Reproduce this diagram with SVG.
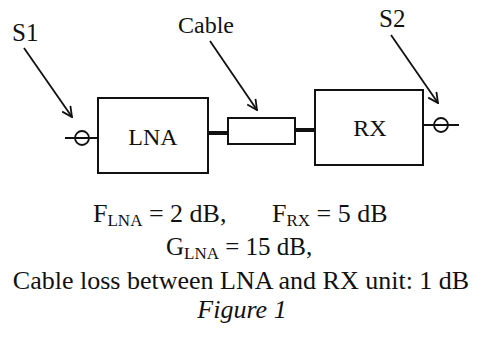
<svg xmlns="http://www.w3.org/2000/svg" width="484" height="338" viewBox="0 0 484 338">
<style>
.t{font-family:"Liberation Serif","Times New Roman",serif;fill:#111}
.box{fill:none;stroke:#111;stroke-width:2}
.ln{stroke:#111;stroke-width:1.8;fill:none}
.thick{stroke:#111;stroke-width:4}
.arr{stroke:#111;stroke-width:1.8;fill:none;marker-end:url(#v)}
</style>
<defs>
<marker id="v" viewBox="0 0 12 12" refX="11" refY="6" markerWidth="12" markerHeight="12" markerUnits="userSpaceOnUse" orient="auto">
<path d="M1,1 L11,6 L1,11" fill="none" stroke="#111" stroke-width="1.8"/>
</marker>
</defs>
<rect width="484" height="338" fill="#fff"/>
<g id="connectors">
<line class="ln" x1="65" y1="138" x2="98" y2="138"/>
<line class="thick" x1="208" y1="133" x2="228" y2="133"/>
<line class="thick" x1="295" y1="130" x2="315" y2="130"/>
<line class="ln" x1="423" y1="125" x2="459" y2="125"/>
<line class="arr" x1="24" y1="48" x2="72" y2="117"/>
<line class="arr" x1="210" y1="41" x2="257" y2="110"/>
<line class="arr" x1="391" y1="35" x2="438" y2="103"/>
</g>
<g id="S1"><circle cx="82" cy="138" r="7" class="ln"/><text class="t" x="12" y="41" font-size="25">S1</text></g>
<g id="S2"><circle cx="441" cy="125" r="7" class="ln"/><text class="t" x="379" y="27" font-size="25">S2</text></g>
<g id="LNA"><rect class="box" x="98" y="98" width="110" height="75"/><text class="t" x="153" y="145" font-size="24" text-anchor="middle">LNA</text></g>
<g id="Cable"><rect class="box" x="228" y="118" width="67" height="26"/><text class="t" x="178" y="33" font-size="24">Cable</text></g>
<g id="RX"><rect class="box" x="315" y="90" width="108" height="75"/><text class="t" x="370" y="136" font-size="24" text-anchor="middle">RX</text></g>
<g id="notes">
<text class="t" x="93" y="222" font-size="26">F<tspan font-size="17" dy="4">LNA</tspan><tspan dy="-4"> = 2 dB,</tspan></text>
<text class="t" x="272" y="222" font-size="26">F<tspan font-size="17" dy="4">RX</tspan><tspan dy="-4"> = 5 dB</tspan></text>
<text class="t" x="166" y="255" font-size="25">G<tspan font-size="17" dy="4">LNA</tspan><tspan dy="-4"> = 15 dB,</tspan></text>
<text class="t" x="241" y="289" font-size="26" text-anchor="middle">Cable loss between LNA and RX unit: 1 dB</text>
<text class="t" x="242" y="318" font-size="26" font-style="italic" text-anchor="middle">Figure 1</text>
</g>
</svg>
